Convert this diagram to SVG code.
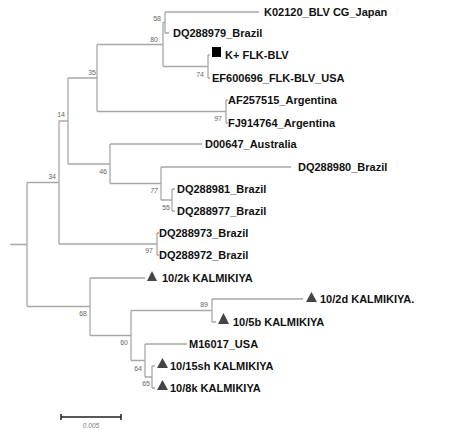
<svg xmlns="http://www.w3.org/2000/svg" width="450" height="432" viewBox="0 0 450 432">
<style>
.br{fill:none;stroke:#a8a8a8;stroke-width:1.3}
.lb{font-family:"Liberation Sans",Arial,sans-serif;font-size:11px;font-weight:bold;fill:#111}
.bs{font-family:"Liberation Sans",Arial,sans-serif;font-size:7px;fill:#666;text-anchor:end}
.tri{fill:#444}
</style>
<rect width="450" height="432" fill="#fff"/>
<g id="connectors">
<path class="br" d="M10,244.5H27M27,182.5V306.5M27,182.5H59M27,306.5H90"/>
<path class="br" d="M59,121V244M59,121H68M59,244H157M157,233V255M157,233H159M157,255H159"/>
<path class="br" d="M68,78V164M68,78H97M68,164H110"/>
<path class="br" d="M97,44.5V111.5M97,44.5H163M97,111.5H226M226,100V123M226,100H228M226,123H228"/>
<path class="br" d="M163,22.5V66.5M163,22.5H165M163,66.5H208M165,12V33M165,12H259M165,33H169M208,55V78M208,55H210M208,78H210"/>
<path class="br" d="M110,144V183.5M110,144H202M110,183.5H161M161,167V200M161,167H291M161,200H172M172,189V211M172,189H175M172,211H175"/>
<path class="br" d="M90,278V335.5M90,278H145M90,335.5H131M131,310.5V360.5M131,310.5H212M131,360.5H145"/>
<path class="br" d="M212,299V322M212,299H303M212,322H216"/>
<path class="br" d="M145,344V377M145,344H187M145,377H152M152,366V388M152,366H155M152,388H155"/>
</g>
<g id="bootstrap">
<text class="bs" x="161" y="21">58</text>
<text class="bs" x="158" y="42">80</text>
<text class="bs" x="204" y="77">74</text>
<text class="bs" x="96" y="75">35</text>
<text class="bs" x="65" y="117">14</text>
<text class="bs" x="222" y="121">97</text>
<text class="bs" x="107" y="174">46</text>
<text class="bs" x="158" y="193" font-style="italic">77</text>
<text class="bs" x="170" y="210">55</text>
<text class="bs" x="56" y="179">34</text>
<text class="bs" x="153" y="253">97</text>
<text class="bs" x="87" y="316">68</text>
<text class="bs" x="208" y="307">89</text>
<text class="bs" x="128" y="345">60</text>
<text class="bs" x="142" y="371">64</text>
<text class="bs" x="150" y="386">65</text>
</g>
<g id="n-K02120"><text class="lb" x="264" y="16">K02120_BLV CG_Japan</text></g>
<g id="n-DQ288979"><text class="lb" x="173" y="37">DQ288979_Brazil</text></g>
<g id="n-KFLK"><rect x="212" y="47" width="9" height="10" fill="#000"/><text class="lb" x="225" y="59">K+ FLK-BLV</text></g>
<g id="n-EF600696"><text class="lb" x="212" y="82">EF600696_FLK-BLV_USA</text></g>
<g id="n-AF257515"><text class="lb" x="228" y="104">AF257515_Argentina</text></g>
<g id="n-FJ914764"><text class="lb" x="228" y="127">FJ914764_Argentina</text></g>
<g id="n-D00647"><text class="lb" x="205" y="148">D00647_Australia</text></g>
<g id="n-DQ288980"><text class="lb" x="298" y="171">DQ288980_Brazil</text></g>
<g id="n-DQ288981"><text class="lb" x="177" y="193">DQ288981_Brazil</text></g>
<g id="n-DQ288977"><text class="lb" x="177" y="215">DQ288977_Brazil</text></g>
<g id="n-DQ288973"><text class="lb" x="159" y="237">DQ288973_Brazil</text></g>
<g id="n-DQ288972"><text class="lb" x="159" y="259">DQ288972_Brazil</text></g>
<g id="n-10-2k"><polygon class="tri" points="147,281 152,271 157,281"/><text class="lb" x="162" y="282">10/2k KALMIKIYA</text></g>
<g id="n-10-2d"><polygon class="tri" points="306,302 311.5,292 317,302"/><text class="lb" x="320" y="303">10/2d KALMIKIYA.</text></g>
<g id="n-10-5b"><polygon class="tri" points="218,324 223.5,313 229,324"/><text class="lb" x="233" y="326">10/5b KALMIKIYA</text></g>
<g id="n-M16017"><text class="lb" x="189" y="348">M16017_USA</text></g>
<g id="n-10-15sh"><polygon class="tri" points="157,368 162.5,358 168,368"/><text class="lb" x="170" y="370">10/15sh KALMIKIYA</text></g>
<g id="n-10-8k"><polygon class="tri" points="157,390 162.5,380 168,390"/><text class="lb" x="170" y="392">10/8k KALMIKIYA</text></g>
<g id="scale">
<path d="M61,417H121M61,414V420M121,414V420" stroke="#222" stroke-width="1.5" fill="none"/>
<text x="91" y="428" font-family="'Liberation Sans',Arial,sans-serif" font-size="6.5" font-style="italic" fill="#777" text-anchor="middle">0.005</text>
</g>
</svg>
